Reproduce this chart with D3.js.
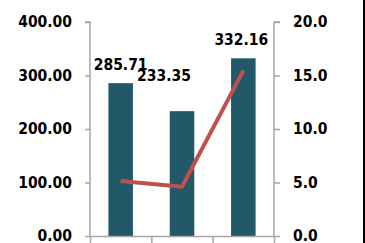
<!DOCTYPE html>
<html>
<head>
<meta charset="utf-8">
<script src="https://cdn.jsdelivr.net/npm/d3@7/dist/d3.min.js"></script>
<style>
  body { margin: 0; background: #fff; }
  text { font-family: "DejaVu Sans Condensed", "DejaVu Sans", sans-serif; font-weight: bold; fill: #000; }
</style>
</head>
<body>
<div id="chart"></div>
<script>
// categories (no visible labels in the picture)
const categories = ['A', 'B', 'C'];
const barValues = [285.71, 233.35, 332.16];
const lineValues = [5.15, 4.6, 15.45];
const leftTicks = [0, 100, 200, 300, 400];
const rightTicks = [0, 5, 10, 15, 20];

const width = 365, height = 243;
const margin = { top: 22, right: 91, bottom: 7, left: 90 };
const innerW = width - margin.left - margin.right;
const innerH = height - margin.top - margin.bottom;

const svg = d3.select('#chart').append('svg')
  .attr('width', width)
  .attr('height', height);

const g = svg.append('g')
  .attr('transform', `translate(${margin.left},${margin.top})`);

const x = d3.scaleBand().domain(categories).range([0, innerW]).paddingInner(0).paddingOuter(0);
const yLeft = d3.scaleLinear().domain([0, 400]).range([innerH, 0]);
const yRight = d3.scaleLinear().domain([0, 20]).range([innerH, 0]);

const axisColor = '#a6a6a6';

// bars
const barW = x.bandwidth() * 0.4;
g.selectAll('rect.bar')
  .data(barValues)
  .enter().append('rect')
  .attr('class', 'bar')
  .attr('x', (d, i) => x(categories[i]) + (x.bandwidth() - barW) / 2)
  .attr('y', d => yLeft(d))
  .attr('width', barW)
  .attr('height', d => innerH - yLeft(d))
  .attr('fill', '#215968');

// left axis
const leftAxis = g.append('g')
  .call(d3.axisLeft(yLeft).tickValues(leftTicks).tickFormat(d3.format('.2f')).tickSize(5).tickPadding(13));
// right axis
const rightAxis = g.append('g')
  .attr('transform', `translate(${innerW},0)`)
  .call(d3.axisRight(yRight).tickValues(rightTicks).tickFormat(d3.format('.1f')).tickSize(6).tickPadding(13));
// bottom axis
const bottomAxis = g.append('g')
  .attr('transform', `translate(0,${innerH})`)
  .call(d3.axisBottom(x).tickValues([]).tickSizeOuter(0));
bottomAxis.selectAll('line.edge')
  .data(d3.range(categories.length + 1))
  .enter().append('line')
  .attr('x1', i => i * x.step() + 0.5)
  .attr('x2', i => i * x.step() + 0.5)
  .attr('y1', 0)
  .attr('y2', 8);

[leftAxis, rightAxis, bottomAxis].forEach(a => {
  a.selectAll('path.domain').attr('stroke', axisColor).attr('stroke-width', 1.5);
  a.selectAll('line').attr('stroke', axisColor).attr('stroke-width', 1.5);
  a.selectAll('text').style('font-size', '15.5px').attr('fill', '#000');
});
leftAxis.select('path.domain').attr('d', `M-5,0H0V${innerH}`);
rightAxis.select('path.domain').attr('d', `M6,0H0V${innerH}`);

// line
const line = d3.line()
  .x((d, i) => x(categories[i]) + x.bandwidth() / 2)
  .y(d => yRight(d));
g.append('path')
  .datum(lineValues)
  .attr('d', line)
  .attr('fill', 'none')
  .attr('stroke', '#c0504d')
  .attr('stroke-width', 4)
  .attr('stroke-linejoin', 'round');

// data labels (second one moved by hand in the original)
const labelShift = [[0, 0], [-18, -17], [-2, 0]];
g.selectAll('text.label')
  .data(barValues)
  .enter().append('text')
  .attr('class', 'label')
  .attr('x', (d, i) => x(categories[i]) + x.bandwidth() / 2 + labelShift[i][0])
  .attr('y', (d, i) => yLeft(d) - 13 + labelShift[i][1])
  .attr('text-anchor', 'middle')
  .style('font-size', '15.5px')
  .text(d => d3.format('.2f')(d));

// right border
svg.append('rect')
  .attr('x', 363).attr('y', 0)
  .attr('width', 2).attr('height', height)
  .attr('fill', '#000');
</script>
</body>
</html>
